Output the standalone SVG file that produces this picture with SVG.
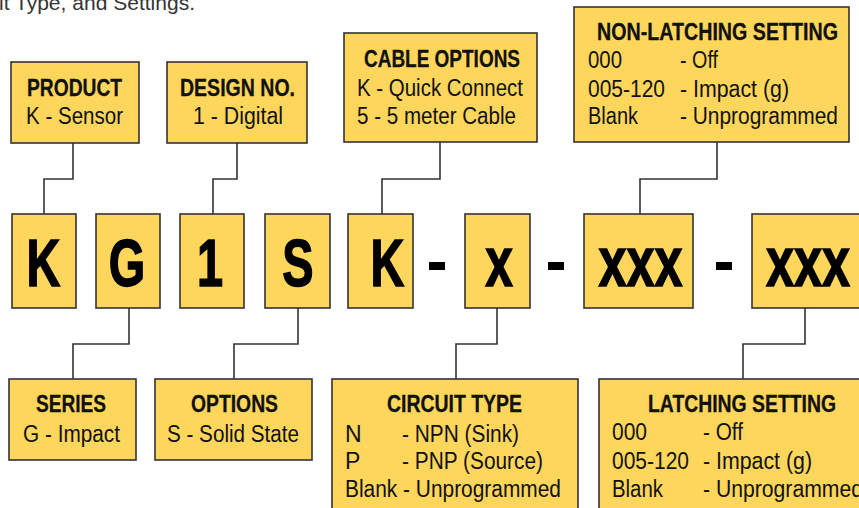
<svg xmlns="http://www.w3.org/2000/svg" width="859" height="508" viewBox="0 0 859 508">
<style>
text{font-family:"Liberation Sans",Arial,sans-serif;fill:#111}
.box{fill:#FED65B;stroke:#333;stroke-width:1.6}
.t{font-weight:bold;font-size:23px;stroke:#111;stroke-width:0.3}
.b{font-size:23px}
.big{font-weight:bold;font-size:67px;fill:#000;stroke:#000;stroke-width:1.5}
.bx{font-weight:bold;font-size:71px;fill:#000;stroke:#000;stroke-width:1.5}
.con{fill:none;stroke:#333;stroke-width:1.6}
</style>
<rect width="859" height="508" fill="#fff"/>
<text x="-1" y="10" font-size="21" style="fill:#333" textLength="196" lengthAdjust="spacingAndGlyphs">it Type, and Settings.</text>

<g id="connectors">
<path class="con" d="M73,143 V179 H44 V214"/>
<path class="con" d="M237,143 V179 H213 V214"/>
<path class="con" d="M440,142 V179 H382 V214"/>
<path class="con" d="M717,142 V179 H640 V214"/>
<path class="con" d="M129,308 V344 H73 V379"/>
<path class="con" d="M298,308 V344 H234 V379"/>
<path class="con" d="M497,308 V344 H456 V379"/>
<path class="con" d="M805,308 V344 H743 V379"/>
</g>

<g id="product">
<rect class="box" x="11" y="62" width="128" height="81"/>
<text class="t" x="27" y="96" textLength="95" lengthAdjust="spacingAndGlyphs">PRODUCT</text>
<text class="b" x="26" y="124" textLength="97" lengthAdjust="spacingAndGlyphs">K - Sensor</text>
</g>
<g id="design">
<rect class="box" x="167" y="62" width="140" height="81"/>
<text class="t" x="180" y="96" textLength="115" lengthAdjust="spacingAndGlyphs">DESIGN NO.</text>
<text class="b" x="193" y="124" textLength="90" lengthAdjust="spacingAndGlyphs">1 - Digital</text>
</g>
<g id="cable">
<rect class="box" x="344" y="33" width="193" height="109"/>
<text class="t" x="364" y="67" textLength="156" lengthAdjust="spacingAndGlyphs">CABLE OPTIONS</text>
<text class="b" x="357" y="96" textLength="166" lengthAdjust="spacingAndGlyphs">K - Quick Connect</text>
<text class="b" x="357" y="124" textLength="159" lengthAdjust="spacingAndGlyphs">5 - 5 meter Cable</text>
</g>
<g id="nonlatching">
<rect class="box" x="574" y="7" width="275" height="135"/>
<text class="t" x="597" y="40" textLength="241" lengthAdjust="spacingAndGlyphs">NON-LATCHING SETTING</text>
<text class="b" x="588" y="68" textLength="34" lengthAdjust="spacingAndGlyphs">000</text>
<text class="b" x="680" y="68" textLength="38" lengthAdjust="spacingAndGlyphs">- Off</text>
<text class="b" x="588" y="97" textLength="77" lengthAdjust="spacingAndGlyphs">005-120</text>
<text class="b" x="680" y="97" textLength="109" lengthAdjust="spacingAndGlyphs">- Impact (g)</text>
<text class="b" x="588" y="124" textLength="50" lengthAdjust="spacingAndGlyphs">Blank</text>
<text class="b" x="680" y="124" textLength="158" lengthAdjust="spacingAndGlyphs">- Unprogrammed</text>
</g>

<g id="k1"><rect class="box" x="12" y="214" width="64" height="94"/><text class="big" text-anchor="middle" transform="translate(43.5,286) scale(0.7,1)">K</text></g>
<g id="g"><rect class="box" x="96" y="214" width="64" height="94"/><text class="big" text-anchor="middle" transform="translate(127,286) scale(0.7,1)">G</text></g>
<g id="one"><rect class="box" x="180" y="214" width="64" height="94"/><text class="big" text-anchor="middle" transform="translate(210,286) scale(0.7,1)">1</text></g>
<g id="s"><rect class="box" x="265" y="214" width="65" height="94"/><text class="big" text-anchor="middle" transform="translate(298,286) scale(0.7,1)">S</text></g>
<g id="k2"><rect class="box" x="348" y="214" width="65" height="94"/><text class="big" text-anchor="middle" transform="translate(387.5,286) scale(0.7,1)">K</text></g>
<rect x="429" y="262" width="16" height="8" fill="#000"/>
<g id="x"><rect class="box" x="465" y="214" width="65" height="94"/><text class="bx" text-anchor="middle" transform="translate(499,286) scale(0.7,1)">x</text></g>
<rect x="548" y="262" width="16" height="8" fill="#000"/>
<g id="xxx1"><rect class="box" x="584" y="214" width="109" height="94"/><text class="bx" text-anchor="middle" transform="translate(640.5,286) scale(0.71,1)">xxx</text></g>
<rect x="716" y="262" width="16" height="8" fill="#000"/>
<g id="xxx2"><rect class="box" x="752" y="214" width="115" height="94"/><text class="bx" text-anchor="middle" transform="translate(808,286) scale(0.71,1)">xxx</text></g>

<g id="series">
<rect class="box" x="9" y="379" width="127" height="81"/>
<text class="t" x="36" y="412" textLength="70" lengthAdjust="spacingAndGlyphs">SERIES</text>
<text class="b" x="23" y="442" textLength="97" lengthAdjust="spacingAndGlyphs">G - Impact</text>
</g>
<g id="options">
<rect class="box" x="155" y="379" width="157" height="81"/>
<text class="t" x="191" y="412" textLength="87" lengthAdjust="spacingAndGlyphs">OPTIONS</text>
<text class="b" x="167" y="442" textLength="132" lengthAdjust="spacingAndGlyphs">S - Solid State</text>
</g>
<g id="circuit">
<rect class="box" x="332" y="379" width="246" height="140"/>
<text class="t" x="387" y="412" textLength="135" lengthAdjust="spacingAndGlyphs">CIRCUIT TYPE</text>
<text class="b" x="345" y="442">N</text>
<text class="b" x="402" y="442" textLength="117" lengthAdjust="spacingAndGlyphs">- NPN (Sink)</text>
<text class="b" x="345" y="469">P</text>
<text class="b" x="402" y="469" textLength="141" lengthAdjust="spacingAndGlyphs">- PNP (Source)</text>
<text class="b" x="345" y="497" textLength="216" lengthAdjust="spacingAndGlyphs">Blank - Unprogrammed</text>
</g>
<g id="latching">
<rect class="box" x="599" y="379" width="270" height="140"/>
<text class="t" x="648" y="412" textLength="188" lengthAdjust="spacingAndGlyphs">LATCHING SETTING</text>
<text class="b" x="612" y="440" textLength="35" lengthAdjust="spacingAndGlyphs">000</text>
<text class="b" x="703" y="440" textLength="40" lengthAdjust="spacingAndGlyphs">- Off</text>
<text class="b" x="612" y="469" textLength="77" lengthAdjust="spacingAndGlyphs">005-120</text>
<text class="b" x="703" y="469" textLength="109" lengthAdjust="spacingAndGlyphs">- Impact (g)</text>
<text class="b" x="612" y="497" textLength="51" lengthAdjust="spacingAndGlyphs">Blank</text>
<text class="b" x="703" y="497" textLength="160" lengthAdjust="spacingAndGlyphs">- Unprogrammed</text>
</g>
</svg>
